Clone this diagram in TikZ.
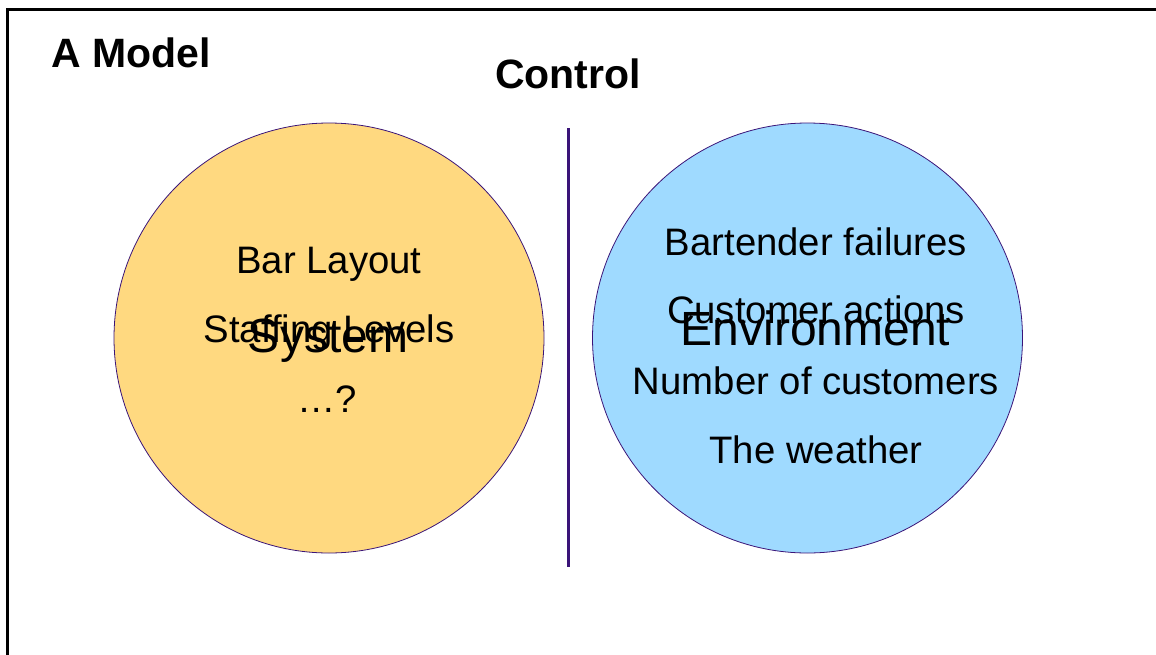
\documentclass[tikz,border=0pt]{standalone}
\usepackage{fontspec}
\setmainfont{Liberation Sans}
\usetikzlibrary{calc}
\definecolor{sysyellow}{HTML}{FFD980}
\definecolor{envblue}{HTML}{9FDAFF}
\definecolor{rimpurple}{HTML}{3A1478}

\begin{document}
\begin{tikzpicture}[
x=1pt, y=-1pt,
bigcircle/.style={circle, draw=rimpurple, line width=0.8pt, minimum size=430pt, inner sep=0pt},
titletext/.style={inner sep=0pt, font=\fontsize{41}{48}\selectfont\bfseries},
itemtext/.style={inner sep=0pt, anchor=base, font=\fontsize{38.3}{46}\selectfont},
circletext/.style={inner sep=0pt, anchor=base, font=\fontsize{48}{56}\selectfont},
]
\useasboundingbox (0,0) rectangle (1156,654);
\clip (0,0) rectangle (1156,654);
%Frame
\draw[line width=3pt] (7,680) -- (7,9) -- (1180,9);
%Nodes
\node[titletext, anchor=base west] (title)   at (51,67)  {A Model};
\node[titletext, anchor=base]      (control) at (568,88) {Control};
\node[bigcircle, fill=sysyellow]   (sys)     at (329,338) {};
\node[bigcircle, fill=envblue]     (env)     at (807.5,338) {};
\node[circletext] (syslabel) at ($(sys.center)+(-1,14)$) {System};
\node[circletext] (envlabel) at ($(env.center)+(8,7)$)  {Environment};
% things inside the system
\node[itemtext] (layout)   at (329,273) {Bar Layout};
\node[itemtext] (staffing) at (329,342) {Staffing Levels};
\node[itemtext] (more)     at (327,412) {…?};
% things in the environment
\node[itemtext] (failures)  at (816,255) {Bartender failures};
\node[itemtext] (actions)   at (816,323) {Customer actions};
\node[itemtext] (customers) at (816,394) {Number of customers};
\node[itemtext] (weather)   at (816,463) {The weather};
%Lines
\coordinate (divtop) at (568,128);
\coordinate (divbot) at (568,567);
\draw[line width=3pt, draw=rimpurple] (divtop) -- (divbot);
\end{tikzpicture}
\end{document}
